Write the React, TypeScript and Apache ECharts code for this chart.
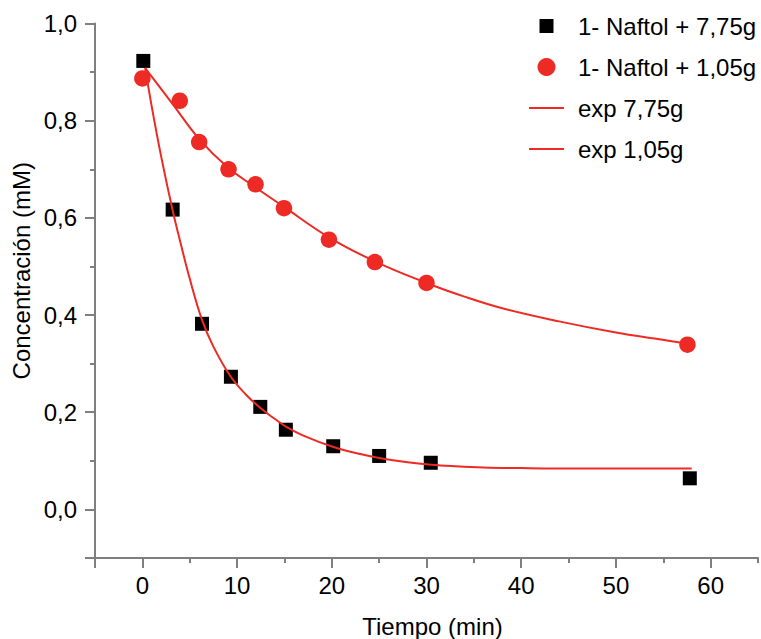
import React, { useEffect, useRef } from "react";
import * as echarts from "echarts";

const FONT = "'Liberation Sans', Arial, sans-serif";
const RED = "#ee2a24";

const seriesNames = ["1- Naftol + 7,75g", "1- Naftol + 1,05g", "exp 7,75g", "exp 1,05g"];

// measured points, 7,75 g (squares)
const xSquare = [0.1, 3.2, 6.3, 9.35, 12.45, 15.15, 20.15, 25.0, 30.45, 57.8];
const ySquare = [0.923, 0.617, 0.382, 0.273, 0.211, 0.164, 0.13, 0.11, 0.096, 0.064];

// measured points, 1,05 g (circles)
const xCircle = [0.0, 3.95, 6.0, 9.1, 11.95, 14.95, 19.7, 24.55, 30.0, 57.55];
const yCircle = [0.887, 0.841, 0.756, 0.7, 0.669, 0.62, 0.555, 0.509, 0.466, 0.339];

// fitted curve 7,75 g
const xFit775 = [0.3, 1, 2, 3.2, 4, 5, 6.3, 7.5, 9.3, 11, 12.5, 14, 15.2, 17, 20.1, 23, 25, 28, 30.5, 33, 36, 40, 46, 58];
const yFit775 = [0.908, 0.828, 0.725, 0.615, 0.551, 0.475, 0.39, 0.335, 0.274, 0.235, 0.208, 0.186, 0.17, 0.152, 0.129, 0.114, 0.106, 0.097, 0.092, 0.089, 0.0865, 0.085, 0.084, 0.084];

// fitted curve 1,05 g
const xFit105 = [0.3, 3.2, 6, 9, 12, 15, 19.7, 24.6, 30, 34, 38, 44, 50, 54.6, 57.6];
const yFit105 = [0.908, 0.834, 0.762, 0.704, 0.662, 0.622, 0.56, 0.51, 0.466, 0.438, 0.414, 0.387, 0.364, 0.35, 0.341];

const xMajor = [-5, 0, 10, 20, 30, 40, 50, 60];
const xLabels = [0, 10, 20, 30, 40, 50, 60];
const yMajor = [-0.1, 0, 0.2, 0.4, 0.6, 0.8, 1.0];
const yLabels = [0, 0.2, 0.4, 0.6, 0.8, 1.0];

const zip = (xs: number[], ys: number[]) => xs.map((x, i) => [x, ys[i]]);

export default function App() {
  const ref = useRef<HTMLDivElement>(null);
  useEffect(() => {
    if (!ref.current) return;
    const chart = echarts.init(ref.current, null, { renderer: "svg" });
    const axisLine = { show: true, onZero: false, lineStyle: { color: "#7f7f7f", width: 2 } };
    const labelStyle = { fontSize: 24, fontFamily: FONT, color: "#000" };
    chart.setOption({
      animation: false,
      backgroundColor: "#fff",
      grid: { left: 95, right: 3, top: 23.5, bottom: 81, containLabel: false, outerBoundsMode: "none" },
      legend: {
        orient: "vertical",
        left: 529,
        top: 14,
        padding: 0,
        itemWidth: 35,
        itemHeight: 18,
        itemGap: 17,
        textStyle: { ...labelStyle, lineHeight: 24, padding: [0, 0, 0, 9] },
        data: [
          { name: seriesNames[0], icon: "path://M0,0M18,18M2,2L16,2L16,16L2,16Z" },
          { name: seriesNames[1], icon: "circle" },
          { name: seriesNames[2], icon: "path://M0,0M35,18M0,8L35,8L35,10L0,10Z" },
          { name: seriesNames[3], icon: "path://M0,0M35,18M0,8L35,8L35,10L0,10Z" },
        ],
      },
      xAxis: [
        {
          type: "value",
          min: -5,
          max: 65,
          interval: 5,
          axisLine,
          axisTick: { show: true, length: 5, lineStyle: { color: "#7f7f7f", width: 2 } },
          axisLabel: { show: false },
          splitLine: { show: false },
          name: "Tiempo (min)",
          nameLocation: "middle",
          nameGap: 56,
          nameTextStyle: { ...labelStyle, padding: [0, 0, 0, 12] },
        },
        {
          type: "value",
          min: -5,
          max: 65,
          position: "bottom",
          axisLine: { show: false, onZero: false },
          axisTick: { show: true, length: 10, customValues: xMajor, lineStyle: { color: "#7f7f7f", width: 2 } },
          axisLabel: { ...labelStyle, margin: 15, customValues: xLabels, formatter: (v: number) => String(v) },
          splitLine: { show: false },
        },
      ],
      yAxis: [
        {
          type: "value",
          min: -0.1,
          max: 1.0,
          interval: 0.1,
          axisLine,
          axisTick: { show: true, length: 5, lineStyle: { color: "#7f7f7f", width: 2 } },
          axisLabel: { show: false },
          splitLine: { show: false },
          name: "Concentración (mM)",
          nameLocation: "middle",
          nameGap: 62,
          nameTextStyle: { ...labelStyle, padding: [0, 0, 0, 40] },
        },
        {
          type: "value",
          min: -0.1,
          max: 1.0,
          position: "left",
          axisLine: { show: false, onZero: false },
          axisTick: { show: true, length: 10, customValues: yMajor, lineStyle: { color: "#7f7f7f", width: 2 } },
          axisLabel: {
            ...labelStyle,
            margin: 18,
            customValues: yLabels,
            formatter: (v: number) => v.toFixed(1).replace(".", ","),
          },
          splitLine: { show: false },
        },
      ],
      series: [
        {
          name: seriesNames[0],
          type: "scatter",
          symbol: "rect",
          symbolSize: 14,
          itemStyle: { color: "#000", opacity: 1 },
          data: zip(xSquare, ySquare),
          z: 2,
        },
        {
          name: seriesNames[1],
          type: "scatter",
          symbol: "circle",
          symbolSize: 16.5,
          itemStyle: { color: RED, opacity: 1 },
          data: zip(xCircle, yCircle),
          z: 2,
        },
        {
          name: seriesNames[2],
          type: "line",
          symbol: "none",
          smooth: 0.4,
          lineStyle: { color: RED, width: 2 },
          itemStyle: { color: RED },
          data: zip(xFit775, yFit775),
          z: 3,
        },
        {
          name: seriesNames[3],
          type: "line",
          symbol: "none",
          smooth: 0.4,
          lineStyle: { color: RED, width: 2 },
          itemStyle: { color: RED },
          data: zip(xFit105, yFit105),
          z: 3,
        },
      ],
    });
    return () => chart.dispose();
  }, []);
  return <div ref={ref} style={{ width: 761, height: 639, position: "absolute", left: 0, top: 0 }} />;
}
